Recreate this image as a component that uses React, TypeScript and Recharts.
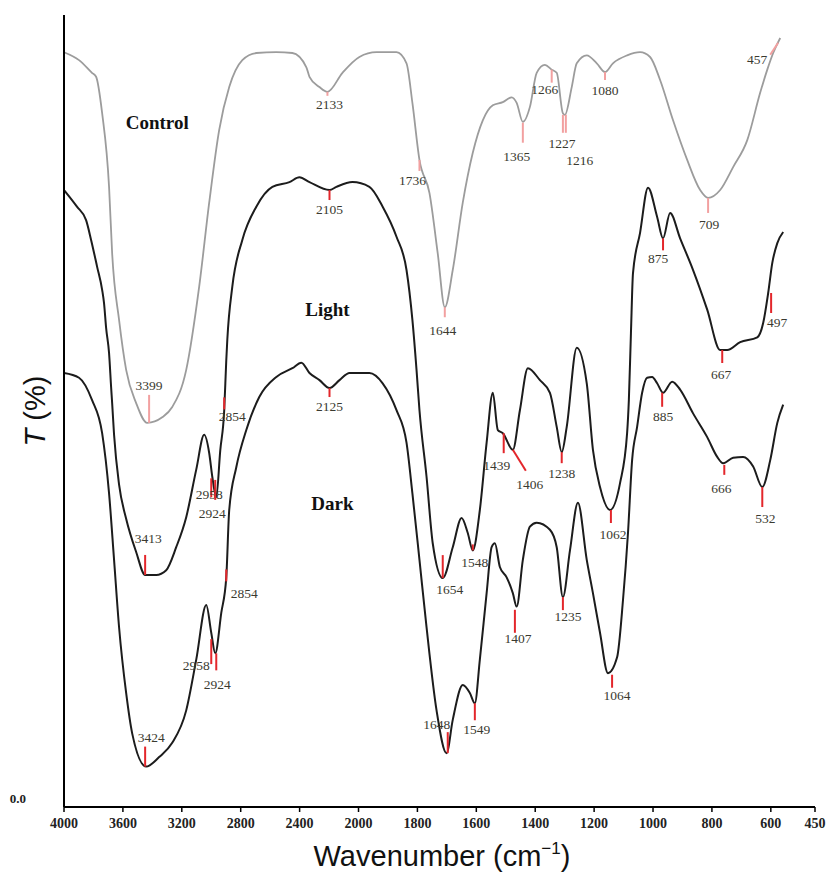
import React from 'react';
import { ComposedChart, Line, Scatter, XAxis, YAxis, Label } from 'recharts';

// axis labels as printed (the scale changes at 2000 cm-1)
const xTicks = [4000, 3600, 3200, 2800, 2400, 2000, 1800, 1600, 1400, 1200, 1000, 800, 600, 450];

const controlWn = [4000, 3898, 3810, 3782, 3741, 3694, 3673, 3626, 3578, 3510, 3435, 3333, 3265, 3170, 3082, 3014, 2946, 2878, 2789, 2694, 2558, 2449, 2354, 2333, 2265, 2211, 2109, 1997, 1939, 1871, 1837, 1817, 1793, 1759, 1731, 1707, 1680, 1646, 1612, 1578, 1544, 1510, 1480, 1463, 1442, 1418, 1395, 1367, 1344, 1327, 1306, 1299, 1276, 1259, 1225, 1191, 1163, 1136, 1088, 1044, 1010, 976, 932, 884, 840, 813, 772, 728, 680, 636, 612, 592, 568];
const controlT = [95.3, 94.3, 92.7, 92.2, 87.6, 78.3, 69.9, 61.5, 55.2, 51.0, 48.5, 49.2, 50.5, 55.2, 65.7, 76.3, 85.5, 90.9, 94.3, 95.2, 95.3, 95.2, 93.4, 92.2, 90.9, 90.3, 92.7, 94.7, 95.3, 95.3, 93.9, 88.9, 81.7, 77.5, 69.9, 63.1, 67.8, 76.3, 82.6, 86.7, 88.6, 89.0, 89.6, 88.9, 86.5, 88.4, 92.7, 93.7, 93.1, 92.7, 87.6, 87.4, 90.9, 93.9, 94.9, 93.9, 92.8, 93.9, 94.9, 95.3, 94.7, 91.8, 86.7, 81.7, 77.9, 76.9, 77.9, 80.8, 84.2, 90.2, 93.1, 95.2, 97.1];

const lightWn = [4000, 3912, 3850, 3816, 3775, 3741, 3728, 3714, 3694, 3680, 3673, 3660, 3626, 3578, 3510, 3449, 3374, 3306, 3238, 3170, 3102, 3048, 3014, 2993, 2966, 2939, 2912, 2898, 2891, 2857, 2789, 2694, 2585, 2469, 2401, 2333, 2197, 2150, 2041, 1963, 1918, 1871, 1837, 1817, 1803, 1793, 1769, 1748, 1714, 1680, 1650, 1629, 1612, 1588, 1565, 1544, 1527, 1510, 1476, 1452, 1425, 1384, 1350, 1327, 1310, 1293, 1259, 1225, 1204, 1180, 1146, 1112, 1088, 1082, 1075, 1068, 1044, 1017, 986, 966, 942, 908, 864, 816, 772, 748, 704, 646, 626, 609, 595, 578, 558];
const lightT = [77.9, 75.8, 74.1, 71.6, 68.2, 65.3, 63.6, 60.5, 57.3, 53.0, 51.0, 47.0, 40.7, 36.4, 32.2, 29.3, 29.3, 29.9, 32.8, 36.6, 42.6, 47.0, 44.7, 41.7, 39.1, 45.0, 50.1, 56.4, 59.0, 65.7, 71.6, 75.8, 78.3, 78.9, 79.5, 78.9, 77.9, 78.3, 78.9, 78.3, 75.8, 72.0, 67.8, 61.5, 55.2, 50.1, 41.7, 33.3, 28.9, 32.8, 36.5, 34.6, 32.4, 37.5, 46.0, 52.3, 47.6, 47.2, 45.1, 50.1, 55.4, 53.9, 52.3, 48.0, 44.8, 48.0, 58.0, 53.5, 45.1, 40.4, 37.5, 40.9, 47.2, 51.4, 59.8, 67.4, 72.5, 78.2, 74.5, 71.8, 75.0, 71.8, 67.8, 62.8, 57.7, 57.7, 58.7, 59.3, 61.1, 64.9, 68.7, 71.2, 72.6];

const darkWn = [4000, 3898, 3810, 3741, 3694, 3660, 3626, 3578, 3537, 3442, 3354, 3265, 3170, 3102, 3034, 3000, 2973, 2932, 2898, 2878, 2830, 2762, 2673, 2558, 2449, 2388, 2333, 2265, 2197, 2129, 2061, 1963, 1918, 1871, 1837, 1817, 1793, 1769, 1735, 1701, 1680, 1646, 1622, 1605, 1588, 1565, 1548, 1537, 1520, 1497, 1476, 1463, 1442, 1418, 1395, 1350, 1327, 1306, 1282, 1255, 1225, 1204, 1180, 1153, 1122, 1102, 1085, 1071, 1054, 1037, 1020, 1003, 986, 966, 935, 908, 864, 816, 782, 762, 728, 694, 660, 629, 602, 578, 558];
const darkT = [54.8, 54.2, 51.4, 47.2, 39.6, 31.2, 22.7, 14.4, 9.3, 5.1, 6.3, 8.1, 12.2, 18.6, 25.5, 22.0, 19.4, 24.5, 29.0, 37.5, 42.9, 47.6, 51.8, 54.3, 55.4, 56.1, 54.8, 53.9, 52.9, 53.9, 54.8, 54.8, 53.5, 50.1, 46.0, 39.6, 31.2, 22.7, 12.2, 6.8, 11.0, 15.4, 14.4, 13.1, 18.6, 27.0, 32.8, 33.3, 30.3, 29.0, 27.0, 25.3, 31.2, 35.4, 35.9, 35.0, 32.8, 26.5, 32.4, 38.4, 31.2, 27.0, 22.0, 16.9, 18.9, 26.1, 34.6, 43.8, 48.0, 52.3, 54.2, 54.3, 53.5, 52.3, 53.7, 52.7, 49.7, 46.7, 44.2, 43.4, 44.1, 44.2, 43.0, 40.4, 43.8, 48.5, 50.8];

// peak annotations: printed label, position on the trace
const controlPeakLabels = ['3399', '2133', '1736', '1644', '1365', '1266', '1227', '1216', '1080', '709', '457'];
const controlPeakWn = [3422, 2211, 1793, 1707, 1442, 1344, 1306, 1296, 1163, 813, 575];
const controlPeakT = [48.5, 90.3, 81.7, 63.1, 86.4, 93.1, 87.4, 87.4, 92.8, 76.9, 96.5];

const lightPeakLabels = ['3413', '2958', '2924', '2854', '2105', '1654', '1548', '1439', '1406', '1238', '1062', '875', '667', '497'];
const lightPeakWn = [3449, 3000, 2973, 2912, 2197, 1714, 1612, 1507, 1476, 1310, 1143, 966, 765, 599];
const lightPeakT = [29.3, 41.5, 41.3, 50.2, 77.9, 28.9, 32.4, 47.2, 45.1, 44.8, 37.5, 71.8, 57.7, 64.9];

const darkPeakLabels = ['3424', '2958', '2924', '2854', '2125', '1648', '1549', '1407', '1235', '1064', '885', '666', '532'];
const darkPeakWn = [3449, 3000, 2966, 2898, 2197, 1697, 1605, 1469, 1306, 1139, 969, 758, 629];
const darkPeakT = [5.1, 21.2, 19.4, 30.0, 52.9, 6.8, 13.1, 24.9, 26.5, 16.7, 52.3, 43.2, 40.4];

const seriesNames = ['Control', 'Light', 'Dark'];
const seriesNameWn = [3367, 2211, 2177];
const seriesNameT = [86.4, 62.8, 38.3];

// marker layout in px: [tick dx, tick dy, label dx, label dy]
const markLayout: Record<string, number[]> = {
  'control-3399': [0, -28, 0, -38], 'control-2133': [0, 4, 2, 12], 'control-1736': [0, 11, -7, 20],
  'control-1644': [0, 10, -2, 23], 'control-1365': [0, 20, -6, 34], 'control-1266': [0, 13, -7, 20],
  'control-1227': [0, 18, -1, 28], 'control-1216': [0, 18, 14, 45], 'control-1080': [0, 8, 0, 18],
  'control-709': [0, 15, 1, 26], 'control-457': [-8, 12, -21, 17],
  'light-3413': [0, -20, 3, -37], 'light-2958': [0, 19, -2, 16], 'light-2924': [0, 20, -3, 33],
  'light-2854': [0, -12, 8, 7], 'light-2105': [0, 10, 0, 19], 'light-1654': [0, -23, 7, 11],
  'light-1548': [0, -6, 2, 12], 'light-1439': [0, 20, -7, 32], 'light-1406': [13, 21, 17, 34],
  'light-1238': [0, 11, 0, 21], 'light-1062': [0, 13, 2, 24], 'light-875': [0, 12, -5, 20],
  'light-667': [0, 13, -1, 24], 'light-497': [0, 20, 6, 29],
  'dark-3424': [0, -20, 6, -29], 'dark-2958': [0, 25, -15, 26], 'dark-2924': [0, 17, 1, 31],
  'dark-2854': [0, 12, 18, 24], 'dark-2125': [0, 9, 0, 18], 'dark-1648': [0, -21, -11, -29],
  'dark-1549': [0, 17, 2, 26], 'dark-1407': [0, 23, 3, 28], 'dark-1235': [0, 13, 5, 19],
  'dark-1064': [0, 13, 5, 21], 'dark-885': [0, 14, 1, 23], 'dark-666': [0, 10, -3, 23],
  'dark-532': [0, 20, 3, 31],
};

const toPos = (wn: number) => (wn >= 2000 ? (4000 - wn) / 400 : 5 + (2000 - wn) / 200);
const fromPos = (p: number) => (p <= 5 ? 4000 - p * 400 : 2000 - (p - 5) * 200);

const zip = (wn: number[], t: number[]) => wn.map((w, i) => ({ wn: w, t: t[i] }));
const peaks = (series: string, labels: string[], wn: number[], t: number[]) =>
  labels.map((label, i) => ({ key: `${series}-${label}`, series, label, wn: wn[i], t: t[i] }));

const controlData = zip(controlWn, controlT);
const lightData = zip(lightWn, lightT);
const darkData = zip(darkWn, darkT);
const peakData = [
  ...peaks('control', controlPeakLabels, controlPeakWn, controlPeakT),
  ...peaks('light', lightPeakLabels, lightPeakWn, lightPeakT),
  ...peaks('dark', darkPeakLabels, darkPeakWn, darkPeakT),
];
const nameData = seriesNames.map((name, i) => ({ name, wn: seriesNameWn[i], t: seriesNameT[i] }));

const serif = '"Liberation Serif", "Times New Roman", serif';
const sans = '"Liberation Sans", Arial, sans-serif';

const PeakMark = (props: any) => {
  const { cx, cy, payload } = props;
  const [tdx, tdy, ldx, ldy] = markLayout[payload.key] || [0, 10, 0, 20];
  const color = payload.series === 'control' ? '#f2a0a0' : '#e3262b';
  return (
    <g>
      <line x1={cx} y1={cy} x2={cx + tdx} y2={cy + tdy} stroke={color} strokeWidth={2} />
      <text x={cx + ldx} y={cy + ldy} dy="0.35em" textAnchor="middle" fontFamily={serif} fontSize={13.5} fill="#3a3a30">
        {payload.label}
      </text>
    </g>
  );
};

const SeriesName = (props: any) => {
  const { cx, cy, payload } = props;
  return (
    <text x={cx} y={cy} dy="0.35em" textAnchor="middle" fontFamily={serif} fontSize={19} fontWeight="bold" fill="#111">
      {payload.name}
    </text>
  );
};

const YTick = (props: any) => (
  <text x={26} y={props.y - 9} dy="0.35em" textAnchor="end" fontFamily={serif} fontSize={13} fontWeight="bold" fill="#222">
    0.0
  </text>
);

const App = () => (
  <div style={{ width: 833, height: 873, background: '#fff' }}>
    <style>{'body{margin:0}'}</style>
    <ComposedChart width={833} height={873} margin={{ top: 15, right: 18, bottom: 0, left: 0 }}>
      <XAxis
        type="number"
        dataKey={(d: any) => toPos(d.wn)}
        domain={[0, 12.75]}
        ticks={xTicks.map(toPos)}
        interval={0}
        tickFormatter={(v: number) => String(Math.round(fromPos(v)))}
        height={66}
        axisLine={{ stroke: '#000', strokeWidth: 2 }}
        tickLine={{ stroke: '#000', strokeWidth: 1.5 }}
        tickSize={5}
        tickMargin={6}
        tick={{ fontFamily: serif, fontSize: 14, fontWeight: 'bold', fill: '#222' }}
      >
        <Label
          content={() => (
            <text x={442} y={866} textAnchor="middle" fontFamily={sans} fontSize={29} fill="#111">
              Wavenumber (cm<tspan dy={-12} fontSize={17}>−1</tspan><tspan dy={12}>)</tspan>
            </text>
          )}
        />
      </XAxis>
      <YAxis
        type="number"
        dataKey="t"
        domain={[0, 100]}
        ticks={[0]}
        width={64}
        tickLine={false}
        axisLine={{ stroke: '#000', strokeWidth: 2 }}
        tick={<YTick />}
      >
        <Label
          content={() => (
            <text x={35} y={411} dy="0.35em" textAnchor="middle" transform="rotate(-90, 35, 411)" fontFamily={sans} fontSize={29} fill="#111">
              <tspan fontStyle="italic">T</tspan> (%)
            </text>
          )}
        />
      </YAxis>
      <Line data={controlData} type="monotone" dataKey="t" stroke="#9c9c9c" strokeWidth={1.8} dot={false} isAnimationActive={false} />
      <Line data={lightData} type="monotone" dataKey="t" stroke="#1c1c1c" strokeWidth={2} dot={false} isAnimationActive={false} />
      <Line data={darkData} type="monotone" dataKey="t" stroke="#1c1c1c" strokeWidth={2} dot={false} isAnimationActive={false} />
      <Scatter data={peakData} dataKey="t" shape={PeakMark} isAnimationActive={false} />
      <Scatter data={nameData} dataKey="t" shape={SeriesName} isAnimationActive={false} />
    </ComposedChart>
  </div>
);

export default App;
